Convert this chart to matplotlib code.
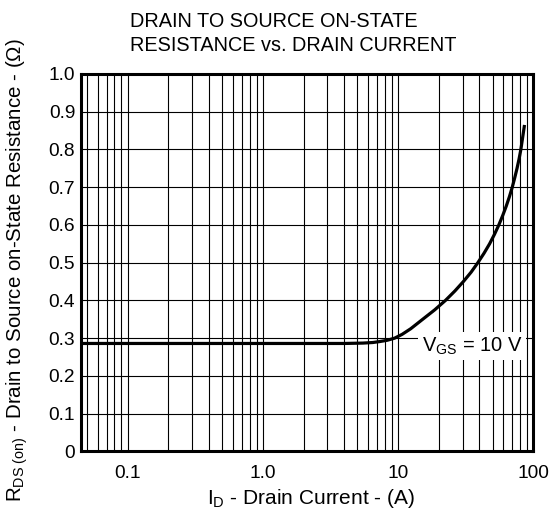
import numpy as np
import matplotlib
matplotlib.use("Agg")
import matplotlib.pyplot as plt
from matplotlib.ticker import LogLocator, FixedLocator, NullFormatter

plt.rcParams['font.family'] = ['Liberation Sans', 'DejaVu Sans']
plt.rcParams['mathtext.fontset'] = 'custom'
plt.rcParams['mathtext.rm'] = 'Liberation Sans'
plt.rcParams['mathtext.it'] = 'Liberation Sans'
plt.rcParams['mathtext.bf'] = 'Liberation Sans'

# ---- data ----
drain_current = [0.045, 3.0, 4.0, 5.5, 6.5, 7.3, 8.3, 9.42, 10.7, 12.4, 15.2, 18.65,
                 22.4, 26.3, 30.4, 34.7, 38.9, 43.2, 47.5, 51.6, 55.6, 59.4, 63.1,
                 66.6, 69.9, 72.9, 75.8, 78.5, 80.9, 86.1]
rds_on = [0.286, 0.286, 0.286, 0.287, 0.2885, 0.291, 0.2944, 0.300, 0.310, 0.325, 0.350, 0.375,
          0.400, 0.425, 0.450, 0.475, 0.500, 0.525, 0.550, 0.575, 0.600, 0.625, 0.650,
          0.675, 0.700, 0.725, 0.750, 0.775, 0.800, 0.865]
x_ticks = [0.1, 1.0, 10, 100]
x_tick_labels = ['0.1', '1.0', '10', '100']
y_ticks = [0.0, 0.1, 0.2, 0.3, 0.4, 0.5, 0.6, 0.7, 0.8, 0.9, 1.0]
y_tick_labels = ['0', '0.1', '0.2', '0.3', '0.4', '0.5', '0.6', '0.7', '0.8', '0.9', '1.0']
title_lines = ['DRAIN TO SOURCE ON-STATE', 'RESISTANCE vs. DRAIN CURRENT']
curve_label = r'V$_{\mathrm{GS}}$ = 10 V'

W, H = 552, 521
fig = plt.figure(figsize=(W / 100, H / 100), dpi=100)
fig.subplots_adjust(left=80.7 / W, right=533.3 / W, bottom=1 - 451.4 / H, top=1 - 74 / H)
ax = fig.add_subplot(111)

ax.set_xscale('log')
ax.set_xlim(0.045, 100)
ax.set_ylim(0, 1.0)

ax.xaxis.set_major_locator(FixedLocator(x_ticks))
ax.set_xticks(x_ticks)
ax.set_xticklabels(x_tick_labels)
ax.xaxis.set_minor_locator(LogLocator(base=10, subs=np.arange(2, 10), numticks=100))
ax.xaxis.set_minor_formatter(NullFormatter())
ax.set_yticks(y_ticks)
ax.set_yticklabels(y_tick_labels)

ax.tick_params(axis='both', which='both', length=0)
ax.tick_params(axis='x', which='major', pad=10, labelsize=13.8)
ax.tick_params(axis='y', which='major', pad=4, labelsize=13.8)

ax.grid(True, which='both', axis='x', color='black', linewidth=0.8)
ax.grid(True, which='major', axis='y', color='black', linewidth=0.8)
ax.set_axisbelow(True)

for s in ax.spines.values():
    s.set_linewidth(2.2)
    s.set_color('black')

ax.plot(drain_current, rds_on, color='black', linewidth=2.3, solid_capstyle='butt',
        solid_joinstyle='round', zorder=3)

ax.text(15.0, 0.264, curve_label, fontsize=14.5, ha='left', va='baseline',
        bbox=dict(facecolor='white', edgecolor='none', pad=2.5), zorder=4)

fig.text(130 / W, 1 - 27.3 / H, title_lines[0], fontsize=14.3, ha='left', va='baseline')
fig.text(130 / W, 1 - 51 / H, title_lines[1], fontsize=14.3, ha='left', va='baseline')

fig.text(311 / W, 1 - 499 / H, r'I$_{\mathrm{D}}$ - Drain Current - (A)', fontsize=15,
         ha='center', va='center')
fig.text(17 / W, 1 - 270 / H,
         r'R$_{\mathrm{DS\ (on)}}$ - Drain to Source on-State Resistance - (Ω)',
         fontsize=14.8, ha='center', va='center', rotation=90)

fig.savefig('out.png', dpi=100)
